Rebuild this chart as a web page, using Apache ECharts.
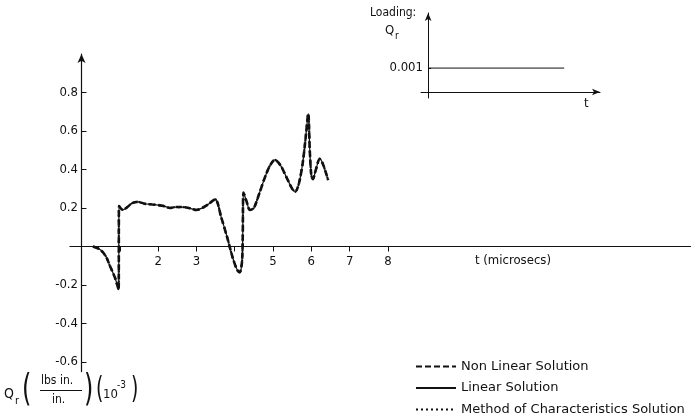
<!DOCTYPE html>
<html>
<head>
<meta charset="utf-8">
<script src="https://cdn.jsdelivr.net/npm/echarts@6/dist/echarts.min.js"></script>
<style>
  html, body { margin: 0; padding: 0; background: #fff; }
  #chart { width: 692px; height: 419px; }
</style>
</head>
<body>
<div id="chart"></div>
<script>
// Radial moment response Q_r(t), microseconds vs 10^-3 lbs in./in.
var timeUs = [0.30, 0.45, 0.56, 0.66, 0.74, 0.87, 0.97, 0.98, 1.08, 1.20, 1.32, 1.47, 1.65, 1.85,
  2.00, 2.15, 2.31, 2.45, 2.62, 2.80, 3.00, 3.15, 3.30, 3.49, 3.65, 3.80, 3.95, 4.06, 4.13,
  4.19, 4.21, 4.23, 4.30, 4.40, 4.50, 4.65, 4.79, 4.92, 5.05, 5.20, 5.35, 5.50, 5.58, 5.68,
  5.78, 5.85, 5.92, 5.96, 6.00, 6.04, 6.12, 6.22, 6.30, 6.44];
var nonLinearQ = [0, -0.012, -0.03, -0.06, -0.10, -0.16, -0.225, 0.21, 0.19, 0.205, 0.225, 0.232, 0.222, 0.218,
  0.215, 0.21, 0.20, 0.205, 0.205, 0.20, 0.19, 0.20, 0.218, 0.245, 0.15, 0.05, -0.06, -0.12, -0.135,
  -0.08, 0.05, 0.28, 0.24, 0.19, 0.20, 0.28, 0.36, 0.42, 0.45, 0.42, 0.36, 0.30, 0.285, 0.33,
  0.44, 0.56, 0.69, 0.50, 0.37, 0.35, 0.40, 0.455, 0.43, 0.345];
var linearQ = nonLinearQ.slice();
var characteristicsQ = nonLinearQ.slice();

var seriesNames = ['Non Linear Solution', 'Linear Solution', 'Method of Characteristics Solution'];

var xTickValues = [1, 2, 3, 4, 5, 6, 7, 8];
var xTickLabels = [2, 3, 5, 6, 7, 8];
var yTickValues = [-0.6, -0.4, -0.2, 0.2, 0.4, 0.6, 0.8];

// Step loading shown in the small panel
var loadTime = [0, 9.5];
var loadValue = [0.001, 0.001];
var loadTickValues = [0.001];

function pairs(xs, ys) { return xs.map(function (x, i) { return [x, ys[i]]; }); }

var FONT = '"DejaVu Sans Condensed", "DejaVu Sans", sans-serif';
var LEGEND_FONT = '"DejaVu Sans", sans-serif';
var INK = '#111';

var chart = echarts.init(document.getElementById('chart'), null, { renderer: 'canvas' });
chart.setOption({
  animation: false,
  backgroundColor: '#fff',
  textStyle: { fontFamily: FONT, color: INK },
  grid: [
    { left: 70, top: 54, width: 620.5, height: 317.6 },
    { left: 421, top: 13, width: 179, height: 85 }
  ],
  xAxis: [
    {
      gridIndex: 0, type: 'value', min: -0.3, max: 15.9,
      splitLine: { show: false },
      axisLine: { onZero: true, lineStyle: { color: INK, width: 1.2 } },
      axisTick: { customValues: xTickValues, length: 5, lineStyle: { color: INK } },
      // labels sit just under the zero line rather than the grid's lower edge
      axisLabel: { customValues: xTickLabels, margin: -116.5, fontSize: 13, color: INK, fontFamily: FONT }
    },
    {
      gridIndex: 1, type: 'value', min: -0.5, max: 12,
      splitLine: { show: false },
      axisLine: { onZero: true, symbol: ['none', 'arrow'], symbolSize: [5, 8], lineStyle: { color: INK, width: 1 } },
      axisTick: { show: false },
      axisLabel: { show: false }
    }
  ],
  yAxis: [
    {
      gridIndex: 0, type: 'value', min: -0.65, max: 1.0,
      splitLine: { show: false },
      axisLine: { onZero: true, symbol: ['none', 'arrow'], symbolSize: [6, 9], lineStyle: { color: INK, width: 1.2 } },
      axisTick: { customValues: yTickValues, inside: true, length: 5, lineStyle: { color: INK } },
      axisLabel: {
        customValues: yTickValues, margin: -8, fontSize: 13, color: INK, fontFamily: FONT,
        formatter: function (v) { return v.toFixed(1); }
      }
    },
    {
      gridIndex: 1, type: 'value', min: -0.00025, max: 0.0033,
      splitLine: { show: false },
      axisLine: { onZero: true, symbol: ['none', 'arrow'], symbolSize: [5, 8], lineStyle: { color: INK, width: 1 } },
      axisTick: { customValues: loadTickValues, inside: true, length: 3, lineStyle: { color: INK } },
      axisLabel: {
        customValues: loadTickValues, margin: -2, fontSize: 13, color: INK, fontFamily: FONT,
        formatter: function (v) { return v.toFixed(3); }
      }
    }
  ],
  legend: {
    orient: 'vertical', left: 415, top: 360, padding: 0, itemWidth: 40, itemHeight: 10, itemGap: 8.5,
    itemStyle: { opacity: 0 },
    textStyle: { fontSize: 13, color: INK, fontFamily: LEGEND_FONT },
    data: seriesNames
  },
  series: [
    {
      name: seriesNames[0], type: 'line', xAxisIndex: 0, yAxisIndex: 0,
      data: pairs(timeUs, nonLinearQ), symbol: 'none', smooth: 0.3, z: 3,
      itemStyle: { color: INK },
      lineStyle: { color: INK, width: 2.6, type: [6, 3] }
    },
    {
      name: seriesNames[1], type: 'line', xAxisIndex: 0, yAxisIndex: 0,
      data: pairs(timeUs, linearQ), symbol: 'none', smooth: 0.3, z: 4,
      itemStyle: { color: INK },
      lineStyle: { color: INK, width: 1.2, type: 'solid' }
    },
    {
      name: seriesNames[2], type: 'line', xAxisIndex: 0, yAxisIndex: 0,
      data: pairs(timeUs, characteristicsQ), symbol: 'none', smooth: 0.3, z: 5,
      itemStyle: { color: INK },
      lineStyle: { color: INK, width: 2.2, type: [2, 3] }
    },
    {
      name: 'Loading', type: 'line', xAxisIndex: 1, yAxisIndex: 1,
      data: pairs(loadTime, loadValue), symbol: 'none', silent: true,
      itemStyle: { color: INK },
      lineStyle: { color: INK, width: 1 }
    }
  ],
  graphic: [
    { type: 'text', left: 475, top: 254, style: { text: 't (microsecs)', font: '13px ' + FONT, fill: INK } },
    { type: 'text', left: 584, top: 97, style: { text: 't', font: '13px ' + FONT, fill: INK } },
    { type: 'text', left: 370, top: 7, style: { text: 'Loading:', font: '12px ' + FONT, fill: INK } },
    { type: 'text', left: 385, top: 24, style: { text: 'Q', font: '13px ' + FONT, fill: INK } },
    { type: 'text', left: 395, top: 31, style: { text: 'r', font: '10px ' + FONT, fill: INK } },
    // Ordinate label: Q_r (lbs in. / in.) (10^-3)
    { type: 'text', left: 4, top: 387, style: { text: 'Q', font: '14px ' + FONT, fill: INK } },
    { type: 'text', left: 15, top: 396, style: { text: 'r', font: '11px ' + FONT, fill: INK } },
    { type: 'text', left: 22, top: 371, style: { text: '(', font: '38px ' + FONT, fill: INK }, scaleX: 0.7 },
    { type: 'text', left: 41, top: 375, style: { text: 'lbs in.', font: '12px ' + FONT, fill: INK } },
    { type: 'line', shape: { x1: 40, y1: 390.5, x2: 82, y2: 390.5 }, style: { stroke: INK, lineWidth: 1 } },
    { type: 'text', left: 52, top: 394, style: { text: 'in.', font: '12px ' + FONT, fill: INK } },
    { type: 'text', left: 84, top: 371, style: { text: ')', font: '38px ' + FONT, fill: INK }, scaleX: 0.7 },
    { type: 'text', left: 96, top: 375, style: { text: '(', font: '30px ' + FONT, fill: INK }, scaleX: 0.7 },
    { type: 'text', left: 103, top: 388, style: { text: '10', font: '13px ' + FONT, fill: INK } },
    { type: 'text', left: 117, top: 380, style: { text: '-3', font: '10px ' + FONT, fill: INK } },
    { type: 'text', left: 131, top: 375, style: { text: ')', font: '30px ' + FONT, fill: INK }, scaleX: 0.7 }
  ]
});
</script>
</body>
</html>
